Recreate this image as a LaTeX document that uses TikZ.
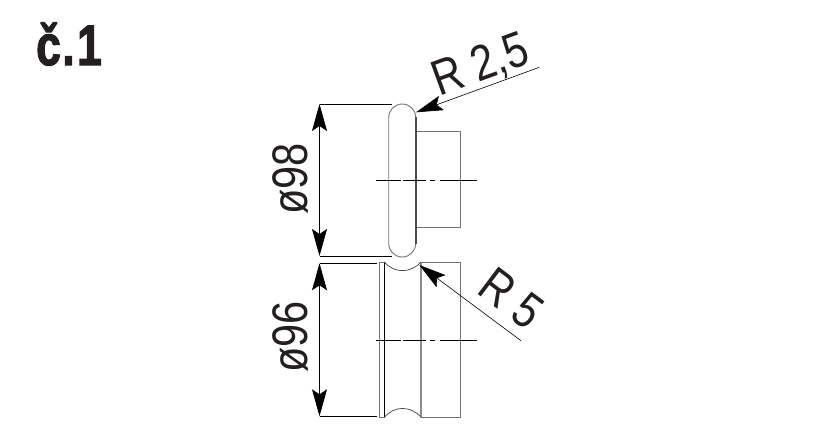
\documentclass[tikz,border=0pt]{standalone}
\usepackage{fontspec}
\setmainfont{Liberation Sans}
\newfontfamily\titlefont[BoldFeatures={FakeBold=2.2}]{Liberation Sans}
\usetikzlibrary{arrows.meta}
\definecolor{ink}{HTML}{231F20}
\tikzset{
  dimline/.style={draw=black,line width=0.9pt},
  dimarrow/.style={draw=black,line width=0.9pt,{Stealth[length=27pt,width=15pt,inset=5pt]}-{Stealth[length=27pt,width=15pt,inset=5pt]}},
  leader/.style={draw=black,line width=0.6pt,-{Stealth[length=27pt,width=15pt,inset=5pt]}},
  body/.style={draw=black!55,line width=0.9pt},
  thickbody/.style={draw=black!45,line width=1.5pt},
  axis/.style={draw=black,line width=0.8pt},
  dimtext/.style={font=\fontsize{50}{50}\selectfont,text=ink,inner sep=0pt,xscale=0.83},
}
\begin{document}
\begin{tikzpicture}[x=1pt,y=-1pt]
\useasboundingbox (0,0) rectangle (821,439);
% title
\node[font=\fontsize{57}{57}\selectfont\titlefont\bfseries,text=ink,inner sep=0pt,anchor=base west,xscale=0.78] (title) at (36,65) {č\kern2pt.\kern3pt 1};
% upper wheel
\coordinate (uTL) at (319.5,104); \coordinate (uBL) at (319.5,256);
\coordinate (uTR) at (392,104); \coordinate (uBR) at (392,256);
\draw[dimline] (uTL) -- (uTR);
\draw[dimline] (uBL) -- (uBR);
\draw[dimarrow] (uTL) -- (uBL);
\draw[body,rounded corners=13.5pt] (388.7,104) rectangle (415.7,257);
\draw[body] (416,131.7) -- (460,131.7) -- (460,227.7) -- (416,227.7);
\draw[draw=black!70,line width=1.2pt] (416,117) -- (416,244);
\foreach \a/\b in {376/400.7,402.7/425.7,430/435,440.3/476.7} \draw[axis] (\a,180.3) -- (\b,180.3);
\coordinate (r25from) at (539.3,67.3); \coordinate (r25to) at (416,112.3);
\draw[leader] (r25from) -- (r25to);
\node[rotate=20,dimtext] (r25) at (481,66) {R 2,5};
\node[rotate=90,dimtext] (d98) at (291,179) {ø98};
% lower wheel
\coordinate (lTL) at (319.5,263.3); \coordinate (lBL) at (319.5,416.3);
\coordinate (lTR) at (376.7,263.3); \coordinate (lBR) at (376.7,416.3);
\draw[dimline] (lTL) -- (lTR);
\draw[dimline] (lBL) -- (lBR);
\draw[dimarrow] (lTL) -- (lBL);
\draw[body] (379.3,262) rectangle (384.3,417.3);
\draw[body] (421,262) -- (460,262) -- (460,417.3) -- (421,417.3);
\draw[thickbody] (421,262) -- (421,417.3);
\draw[draw=black,line width=1.5pt] (384.3,262) -- (384.3,417.3);
\draw[draw=black!75,line width=0.7pt] (384.3,262) .. controls (394,273.5) and (411,273.5) .. (421,262);
\draw[draw=black!75,line width=0.7pt] (384.3,417.3) .. controls (394,405.5) and (411,405.5) .. (421,417.3);
\foreach \a/\b in {376/400.7,402.7/425.7,430/435,440.3/476.7} \draw[axis] (\a,340) -- (\b,340);
\coordinate (r5from) at (521,340.7); \coordinate (r5to) at (419.3,265);
\draw[leader] (r5from) -- (r5to);
\node[rotate=-37,dimtext] (r5) at (511,298) {R 5};
\node[rotate=90,dimtext] (d96) at (291,337) {ø96};
\end{tikzpicture}
\end{document}
